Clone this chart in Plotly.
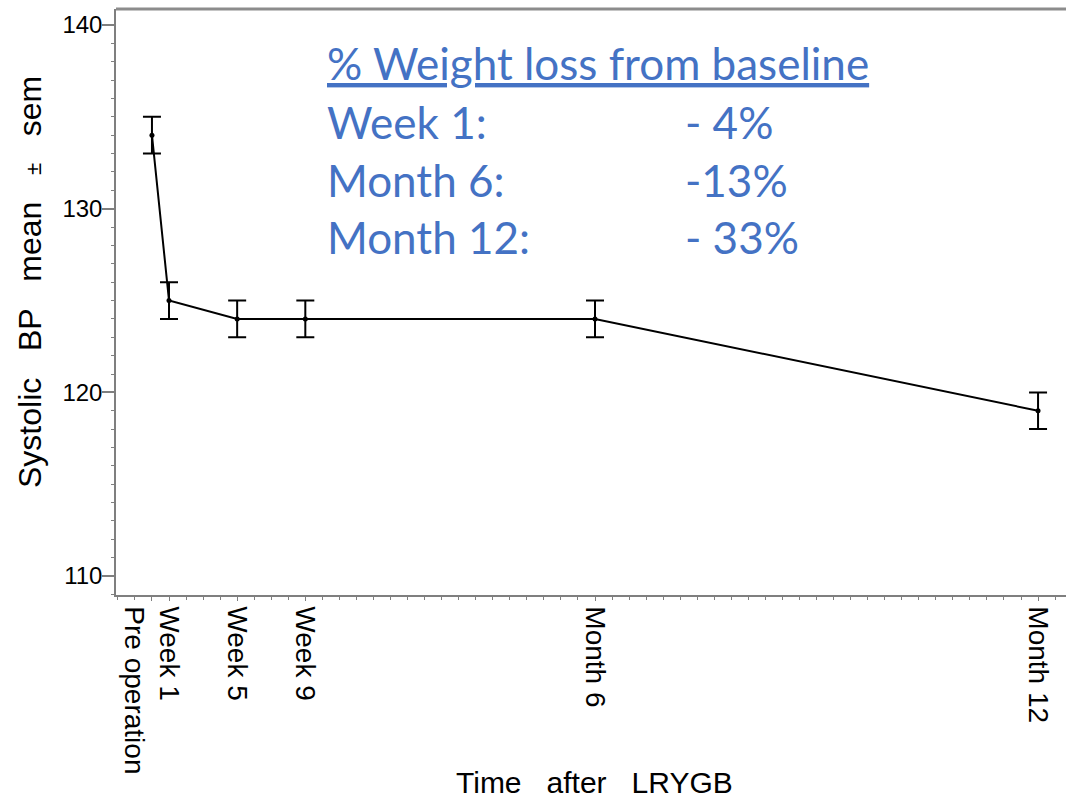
import plotly.graph_objects as go

# ---- data ----
time_labels = ["Pre operation", "Week 1", "Week 5", "Week 9", "Month 6", "Month 12"]
time_weeks = [0, 1, 5, 9, 26, 52]
sbp_mean = [134, 125, 124, 124, 124, 119]
sbp_sem = [1, 1, 1, 1, 1, 1]

y_ticks = [110, 120, 130, 140]

box_title = "% Weight loss from baseline"
box_periods = ["Week 1:", "Month 6:", "Month 12:"]
box_values = ["- 4%", "-13%", "- 33%"]

# ---- layout geometry (pixels) ----
W, H = 1066, 805
ML, MR, MT, MB = 116, 0, 9, 210
PW, PH = W - ML - MR, H - MT - MB

def px_x(p):
    return (p - ML) / PW

def px_y(p):
    return (MT + PH - p) / PH

AXIS_GRAY = "#7f7f7f"
BLUE = "#4472C4"

# the first (pre-operation) label sits a little left of its tick, as in the original
tick_text = ["\u00a0<br>" + time_labels[0]] + time_labels[1:]

fig = go.Figure()
fig.add_trace(go.Scatter(
    x=time_weeks, y=sbp_mean,
    mode="lines+markers",
    line=dict(color="black", width=2),
    marker=dict(color="black", size=5),
    error_y=dict(type="data", array=sbp_sem, visible=True,
                 color="black", thickness=2, width=9),
    showlegend=False,
    hoverinfo="x+y",
))

fig.update_layout(
    width=W, height=H,
    margin=dict(l=ML, r=MR, t=MT, b=MB),
    paper_bgcolor="white", plot_bgcolor="white",
    font=dict(family="Liberation Sans, Arial, sans-serif", color="black"),
)

fig.update_xaxes(
    range=[-2.11, 53.64],
    tickmode="array", tickvals=time_weeks, ticktext=tick_text,
    tickangle=90,
    tickfont=dict(size=28, color="black"),
    ticks="outside", ticklen=4, tickwidth=1.2, tickcolor=AXIS_GRAY,
    minor=dict(ticks="outside", ticklen=3, dtick=1, tick0=0,
               tickcolor=AXIS_GRAY, tickwidth=1.2, showgrid=False),
    showline=True, linecolor=AXIS_GRAY, linewidth=1.5,
    showgrid=False, zeroline=False,
)
fig.update_yaxes(
    range=[108.97, 140.87],
    tickmode="array", tickvals=y_ticks,
    tickfont=dict(size=24, color="black"),
    ticks="outside", ticklen=12, tickwidth=1.5, tickcolor=AXIS_GRAY,
    ticklabelstandoff=-5,
    minor=dict(ticks="outside", ticklen=3, dtick=1, tick0=110,
               tickcolor=AXIS_GRAY, tickwidth=1.2, showgrid=False),
    showline=True, linecolor=AXIS_GRAY, linewidth=1.5,
    showgrid=False, zeroline=False,
)

# top frame line
fig.add_shape(type="line", xref="paper", yref="paper", x0=0, x1=1, y0=1, y1=1,
              line=dict(color="#8c8c8c", width=3))

# axis titles
gap = "\u00a0\u00a0\u00a0"
ytitle = ("Systolic" + gap + "BP" + gap + "mean" + gap +
          "<span style='font-size:22px'>±</span>" + gap + "sem")
fig.add_annotation(text=ytitle, textangle=-90, xref="paper", yref="paper",
                   x=px_x(30), y=px_y(282), xanchor="center", yanchor="middle",
                   showarrow=False, font=dict(size=32, color="black"))
xtitle = "Time\u00a0\u00a0\u00a0after\u00a0\u00a0\u00a0LRYGB"
fig.add_annotation(text=xtitle, xref="paper", yref="paper",
                   x=px_x(594), y=px_y(782), xanchor="center", yanchor="middle",
                   showarrow=False, font=dict(size=30, color="black"))

# weight-loss text box
tfont = dict(family="Lato, Open Sans, sans-serif", size=44, color=BLUE)
fig.add_annotation(text="<u>" + box_title + "</u>", xref="paper", yref="paper",
                   x=px_x(325), y=px_y(63), xanchor="left", yanchor="middle",
                   showarrow=False, font=tfont)
row_y = [122, 180, 237]
for lab, val, yy in zip(box_periods, box_values, row_y):
    fig.add_annotation(text=lab, xref="paper", yref="paper",
                       x=px_x(325), y=px_y(yy), xanchor="left", yanchor="middle",
                       showarrow=False, font=tfont)
    fig.add_annotation(text=val, xref="paper", yref="paper",
                       x=px_x(683), y=px_y(yy), xanchor="left", yanchor="middle",
                       showarrow=False, font=tfont)

fig.write_html("out.html")
